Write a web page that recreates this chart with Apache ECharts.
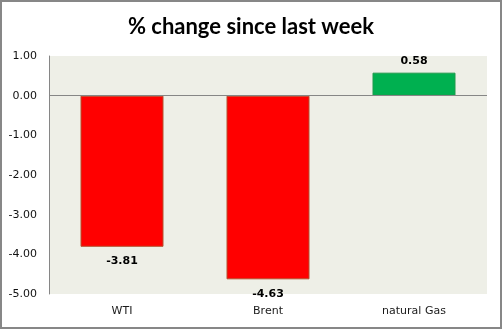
<!DOCTYPE html>
<html>
<head>
<meta charset="utf-8">
<script src="https://cdn.jsdelivr.net/npm/echarts@6/dist/echarts.min.js"></script>
<style>
html,body{margin:0;padding:0;background:#fff;}
#c{width:502px;height:329px;box-sizing:border-box;border:2px solid #878787;}
</style>
</head>
<body>
<div id="c"></div>
<script>
const categories = ['WTI', 'Brent', 'natural Gas'];
const values = [-3.81, -4.63, 0.58];
const barColors = ['#ff0000', '#ff0000', '#00b050'];
const borderColors = ['#b5502e', '#b5502e', '#1f9a4c'];
const yMin = -5, yMax = 1, yStep = 1;

const chart = echarts.init(document.getElementById('c'), null, {renderer: 'canvas'});
chart.setOption({
  animation: false,
  title: {
    text: '% change since last week',
    left: 'center', top: 9,
    textStyle: {fontFamily: 'Lato', fontWeight: 'bold', fontSize: 22, color: '#000'}
  },
  grid: {left: 47, right: 13, top: 54, bottom: 33, show: true, backgroundColor: '#eeefe7', borderWidth: 0},
  xAxis: {
    type: 'category', data: categories,
    axisLine: {show: false}, axisTick: {show: false},
    axisLabel: {fontFamily: 'DejaVu Sans', fontSize: 11, color: '#1a1a1a', margin: 12}
  },
  yAxis: {
    type: 'value', min: yMin, max: yMax, interval: yStep,
    axisLine: {show: true, lineStyle: {color: '#868686'}},
    axisTick: {show: false}, splitLine: {show: false},
    axisLabel: {fontFamily: 'DejaVu Sans', fontSize: 11, color: '#111', margin: 12,
      formatter: v => v.toFixed(2)}
  },
  series: [{
    type: 'bar', barWidth: 83,
    data: values.map((v, i) => ({
      value: v,
      itemStyle: {color: barColors[i], borderColor: borderColors[i], borderWidth: 1},
      label: {position: v < 0 ? 'bottom' : 'top', distance: v < 0 ? 9 : 6}
    })),
    label: {show: true, fontFamily: 'DejaVu Sans', fontWeight: 'bold', fontSize: 11, color: '#000',
      formatter: p => p.value.toFixed(2)},
    markLine: {silent: true, symbol: 'none', label: {show: false},
      lineStyle: {color: '#868686', type: 'solid', width: 1},
      data: [{yAxis: 0}]}
  }]
});
</script>
</body>
</html>
